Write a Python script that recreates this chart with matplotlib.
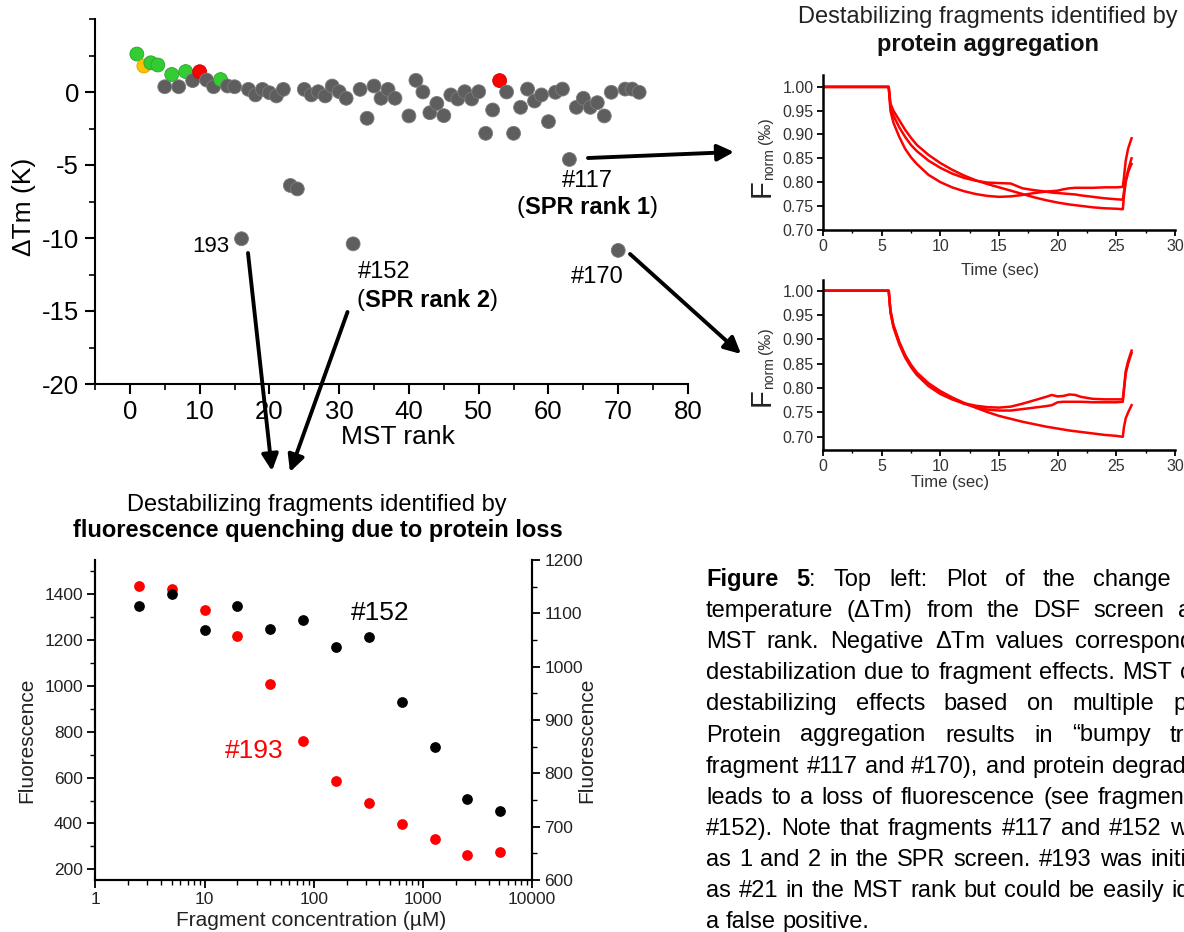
import numpy as np
import matplotlib
matplotlib.use("Agg")
import matplotlib.pyplot as plt
from matplotlib.patches import FancyArrowPatch
from matplotlib.ticker import MultipleLocator, FormatStrFormatter, LogLocator, NullFormatter, FixedLocator

plt.rcParams["font.family"] = ["Liberation Sans", "DejaVu Sans"]
plt.rcParams["axes.unicode_minus"] = False

# ---------------- data: DSF vs MST rank ----------------
mst_rank = list(range(1, 39)) + list(range(40, 74))
delta_tm = [2.60, 1.78, 2.00, 1.85, 0.36, 1.20, 0.36, 1.40, 0.78, 1.39,
            0.82, 0.36, 0.85, 0.41, 0.36, -10.05, 0.18, -0.20, 0.18, -0.05,
            -0.27, 0.18, -6.40, -6.64, 0.18, -0.20, 0.02, -0.27, 0.41, 0.02,
            -0.43, -10.40, 0.18, -1.80, 0.41, -0.43, 0.18, -0.43,
            -1.64, 0.80, 0.00, -1.42, -0.78, -1.62, -0.20, -0.48, 0.02, -0.48,
            0.02, -2.83, -1.23, 0.78, 0.00, -2.83, -1.05, 0.20, -0.62, -0.20,
            -2.03, -0.02, 0.20, -4.62, -1.05, -0.43, -1.05, -0.73, -1.64, -0.02,
            -10.85, 0.20, 0.20, -0.02]
green_ranks = [1, 3, 4, 6, 8, 13]
orange_ranks = [2]
red_ranks = [10, 53]

# ---------------- data: fluorescence vs concentration ----------------
conc_uM = [2.5, 5, 10, 20, 40, 80, 160, 320, 640, 1280, 2560, 5120]
fluo_193 = [1435, 1423, 1331, 1217, 1009, 760, 587, 488, 398, 332, 264, 276]
fluo_152 = [1113, 1137, 1069, 1114, 1071, 1087, 1036, 1056, 934, 849, 751, 729]

# ---------------- data: MST traces ----------------
time_s = [0, 5.6, 5.75, 6, 6.5, 7, 7.5, 8, 9, 10,
          11, 12, 13, 14, 15, 16, 17, 18, 19, 19.5,
          20, 20.5, 21, 21.5, 22, 23, 24, 25, 25.55, 25.65,
          25.8, 26, 26.2, 26.3]
agg117_a = [1.0, 1.0, 0.95, 0.925, 0.895, 0.87, 0.852, 0.838, 0.815, 0.80,
            0.789, 0.781, 0.775, 0.771, 0.769, 0.770, 0.773, 0.777, 0.780, 0.781,
            0.782, 0.785, 0.787, 0.788, 0.788, 0.788, 0.789, 0.789, 0.790, 0.81,
            0.845, 0.87, 0.885, 0.892]
agg117_b = [1.0, 1.0, 0.96, 0.94, 0.915, 0.895, 0.878, 0.865, 0.845, 0.83,
            0.818, 0.809, 0.803, 0.799, 0.798, 0.797, 0.787, 0.783, 0.780, 0.778,
            0.777, 0.776, 0.775, 0.774, 0.772, 0.769, 0.766, 0.764, 0.763, 0.78,
            0.805, 0.825, 0.842, 0.85]
agg117_c = [1.0, 1.0, 0.965, 0.95, 0.93, 0.91, 0.893, 0.878, 0.857, 0.84,
            0.826, 0.814, 0.804, 0.796, 0.789, 0.782, 0.775, 0.768, 0.762, 0.7595,
            0.757, 0.755, 0.753, 0.7515, 0.750, 0.747, 0.745, 0.744, 0.743, 0.77,
            0.80, 0.82, 0.833, 0.838]
agg170_a = [1.0, 1.0, 0.96, 0.93, 0.895, 0.868, 0.848, 0.832, 0.81, 0.794,
            0.781, 0.77, 0.76, 0.751, 0.743, 0.737, 0.731, 0.726, 0.721, 0.719,
            0.717, 0.715, 0.713, 0.7115, 0.710, 0.707, 0.704, 0.702, 0.70, 0.72,
            0.738, 0.75, 0.76, 0.765]
agg170_b = [1.0, 1.0, 0.955, 0.925, 0.89, 0.863, 0.843, 0.827, 0.804, 0.788,
            0.777, 0.769, 0.764, 0.761, 0.76, 0.762, 0.768, 0.775, 0.782, 0.786,
            0.783, 0.784, 0.787, 0.786, 0.782, 0.778, 0.777, 0.777, 0.777, 0.80,
            0.835, 0.855, 0.87, 0.877]
agg170_c = [1.0, 1.0, 0.958, 0.928, 0.893, 0.866, 0.846, 0.83, 0.807, 0.79,
            0.778, 0.768, 0.761, 0.756, 0.754, 0.754, 0.757, 0.76, 0.763, 0.765,
            0.771, 0.772, 0.772, 0.772, 0.772, 0.771, 0.771, 0.771, 0.772, 0.795,
            0.83, 0.85, 0.865, 0.872]

# ---------------- caption text (justified lines) ----------------
caption_lines = [
    [[("Figure", "bold")], [("5", "bold"), (":", "normal")], "Top", "left:", "Plot", "of", "the", "change"],
    ["temperature", "(ΔTm)", "from", "the", "DSF", "screen", "a"],
    ["MST", "rank.", "Negative", "ΔTm", "values", "correspond"],
    ["destabilization", "due", "to", "fragment", "effects.", "MST", "c"],
    ["destabilizing", "effects", "based", "on", "multiple", "pl"],
    ["Protein", "aggregation", "results", "in", "“bumpy", "traces"],
    ["fragment", "#117", "and", "#170),", "and", "protein", "degradation"],
    ["leads", "to", "a", "loss", "of", "fluorescence", "(see", "fragment"],
    ["#152).", "Note", "that", "fragments", "#117", "and", "#152", "were"],
    ["as", "1", "and", "2", "in", "the", "SPR", "screen.", "#193", "was", "initially"],
    ["as", "#21", "in", "the", "MST", "rank", "but", "could", "be", "easily", "identified"],
    ["a", "false", "positive."],
]
caption_last_word_x = [1093, 1178, 1075, 1180, 1173, 1170, 1112, 1098, 1170, 1150, 1171, None]

# ---------------- figure ----------------
W, H = 1184, 932
fig = plt.figure(figsize=(W / 100, H / 100), dpi=100)
renderer = fig.canvas.get_renderer()


def box(x0, y0, x1, y1):
    return [x0 / W, 1 - y1 / H, (x1 - x0) / W, (y1 - y0) / H]


def ftext(px, py, s, **kw):
    return fig.text(px / W, 1 - py / H, s, **kw)


def measure(s, size, weight="normal"):
    t = fig.text(0, 0, s, fontsize=size, fontweight=weight)
    w = t.get_window_extent(renderer).width
    t.remove()
    return w


def runs(px, py, parts, size, va="center"):
    x = px
    for txt, weight in parts:
        t = ftext(x, py, txt, fontsize=size, fontweight=weight, ha="left", va=va)
        x += t.get_window_extent(renderer).width
    return x


# ---- top-left: dTm vs MST rank ----
ax1 = fig.add_axes(box(95, 19, 688, 384))
col_map = {"gray": ("#5e5e5e", "#7c7c7c"), "green": ("#33cc33", "#2aa52a"),
           "orange": ("#ffc000", "#d9a300"), "red": ("#ff0000", "#d00000")}
groups = []
for r in mst_rank:
    if r in green_ranks:
        groups.append("green")
    elif r in orange_ranks:
        groups.append("orange")
    elif r in red_ranks:
        groups.append("red")
    else:
        groups.append("gray")
ax1.scatter(mst_rank, delta_tm, s=100,
            c=[col_map[g][0] for g in groups],
            edgecolors=[col_map[g][1] for g in groups],
            linewidths=0.6, zorder=3, clip_on=False)
ax1.set_xlim(-5, 80)
ax1.set_ylim(-20, 5)
for s in ["top", "right"]:
    ax1.spines[s].set_visible(False)
for s in ["left", "bottom"]:
    ax1.spines[s].set_linewidth(1.5)
ax1.set_xticks(range(0, 81, 10))
ax1.xaxis.set_minor_locator(MultipleLocator(5))
ax1.set_yticks([-20, -15, -10, -5, 0])
ax1.yaxis.set_minor_locator(MultipleLocator(2.5))
ax1.tick_params(which="major", direction="out", length=7, width=1.5, labelsize=18.5, pad=4.5)
ax1.tick_params(which="minor", direction="out", length=4, width=1.2)
ftext(24, 207, "ΔTm (K)", fontsize=19, rotation=90, ha="center", va="center")
ftext(398, 437, "MST rank", fontsize=19, ha="center", va="center")

ftext(229, 247, "193", fontsize=16, ha="right", va="center")
ftext(358, 272, "#152", fontsize=17, ha="left", va="center")
runs(357, 300, [("(", "normal"), ("SPR rank 2", "bold"), (")", "normal")], 17)
ftext(562, 181, "#117", fontsize=17, ha="left", va="center")
runs(517, 207, [("(", "normal"), ("SPR rank 1", "bold"), (")", "normal")], 17)
ftext(571, 277, "#170", fontsize=17, ha="left", va="center")

# ---- arrows ----
arrows = [((248, 253), (272, 471)), ((347.5, 312), (290, 472)),
          ((588, 158), (734, 152)), ((630, 254), (741, 354))]
for (a, b) in arrows:
    fig.add_artist(FancyArrowPatch((a[0] / W, 1 - a[1] / H), (b[0] / W, 1 - b[1] / H),
                                   transform=fig.transFigure,
                                   arrowstyle="-|>,head_length=0.9,head_width=0.45",
                                   mutation_scale=11, lw=2.8, color="black",
                                   shrinkA=0, shrinkB=0))

# ---- bottom-left: fluorescence vs concentration ----
ax2 = fig.add_axes(box(95.4, 560, 532, 880))
ax2.set_xscale("log")
ax2.set_xlim(1, 10000)
ax2.set_ylim(153, 1550)
ax2.scatter(conc_uM, fluo_193, s=45, color="#ff0000", zorder=3, clip_on=False)
ax2b = ax2.twinx()
ax2b.set_ylim(600, 1200)
ax2b.scatter(conc_uM, fluo_152, s=45, color="black", zorder=3, clip_on=False)
for a in (ax2, ax2b):
    a.spines["top"].set_visible(False)
    for s in ["left", "bottom", "right"]:
        a.spines[s].set_linewidth(1.5)
ax2.set_xticks([1, 10, 100, 1000, 10000], labels=["1", "10", "100", "1000", "10000"])
ax2.xaxis.set_minor_locator(LogLocator(base=10, subs=np.arange(2, 10)))
ax2.xaxis.set_minor_formatter(NullFormatter())
ax2.set_yticks(range(200, 1401, 200))
ax2.yaxis.set_minor_locator(MultipleLocator(100))
ax2b.set_yticks(range(600, 1201, 100))
ax2b.yaxis.set_minor_locator(MultipleLocator(50))
for a in (ax2, ax2b):
    a.tick_params(which="major", direction="out", length=6, width=1.3, labelsize=12.5, pad=3,
                  labelcolor="#222222")
    a.tick_params(which="minor", direction="out", length=3.5, width=1.0)
ftext(27, 740, "Fluorescence", fontsize=15, rotation=90, ha="center", va="center", color="#222222")
ftext(587, 740, "Fluorescence", fontsize=15, rotation=90, ha="center", va="center", color="#222222")
ftext(311, 921, "Fragment concentration (µM)", fontsize=15, ha="center", va="center", color="#222222")
ftext(317, 505, "Destabilizing fragments identified by", fontsize=17, ha="center", va="center")
ftext(318, 531, "fluorescence quenching due to protein loss", fontsize=17, fontweight="bold",
      ha="center", va="center")
ftext(380, 613, "#152", fontsize=19, ha="center", va="center", color="black")
ftext(254, 751, "#193", fontsize=19, ha="center", va="center", color="#ff0000")

# ---- top-right: MST traces ----
ftext(988, 17, "Destabilizing fragments identified by", fontsize=17, ha="center", va="center",
      color="#222222")
ftext(988, 44, "protein aggregation", fontsize=17, fontweight="bold", ha="center", va="center",
      color="#111111")


def trace_axes(y0, y1, ylim, traces):
    ax = fig.add_axes(box(823, y0, 1175, y1))
    for tr in traces:
        ax.plot(time_s, tr, color="#ff0000", lw=1.8)
    ax.set_xlim(0, 30)
    ax.set_ylim(*ylim)
    for s in ["top", "right"]:
        ax.spines[s].set_visible(False)
    for s in ["left", "bottom"]:
        ax.spines[s].set_linewidth(1.8)
    ax.set_xticks(range(0, 31, 5))
    ax.xaxis.set_minor_locator(MultipleLocator(2.5))
    ax.yaxis.set_major_locator(FixedLocator([0.70, 0.75, 0.80, 0.85, 0.90, 0.95, 1.00]))
    ax.yaxis.set_major_formatter(FormatStrFormatter("%.2f"))
    ax.tick_params(which="major", direction="out", length=4, width=1.3, labelsize=11.5, pad=2.5,
                   labelcolor="#333333")
    ax.tick_params(which="minor", direction="out", length=2.5, width=1.0)
    return ax


ax3 = trace_axes(75, 229.7, (0.70, 1.025), [agg117_a, agg117_b, agg117_c])
ax4 = trace_axes(280, 450, (0.673, 1.022), [agg170_a, agg170_b, agg170_c])
ftext(1000, 271, "Time (sec)", fontsize=12, ha="center", va="center", color="#333333")
ftext(950, 482, "Time (sec)", fontsize=12, ha="center", va="center", color="#333333")
for (fy_, ny_, py_) in [(188, 164, 131), (397, 373, 341)]:
    ftext(762, fy_, "F", fontsize=21, rotation=90, ha="center", va="center", color="#222222")
    ftext(769, ny_, "norm", fontsize=10, rotation=90, ha="center", va="center", color="#333333")
    ftext(766, py_, "(‰)", fontsize=11.5, rotation=90, ha="center", va="center", color="#333333")

# ---- caption (justified, runs off the right edge like the source page) ----
cap_size = 17
line_x0, line_y0, line_dy = 706.0, 586.0, 31.1
for i, words in enumerate(caption_lines):
    yb = line_y0 + i * line_dy
    norm_words = [w if isinstance(w, list) else [(w, "normal")] for w in words]
    widths = [sum(measure(t, cap_size, wt) for t, wt in w) for w in norm_words]
    x_last = caption_last_word_x[i]
    if x_last is None:
        gap = measure("a a", cap_size) - 2 * measure("a", cap_size)
    else:
        gap = (x_last - line_x0 - sum(widths[:-1])) / (len(words) - 1)
    x = line_x0
    for w, wd in zip(norm_words, widths):
        runs(x, yb, w, cap_size, va="baseline")
        x += wd + gap

fig.savefig("out.png", dpi=100)
